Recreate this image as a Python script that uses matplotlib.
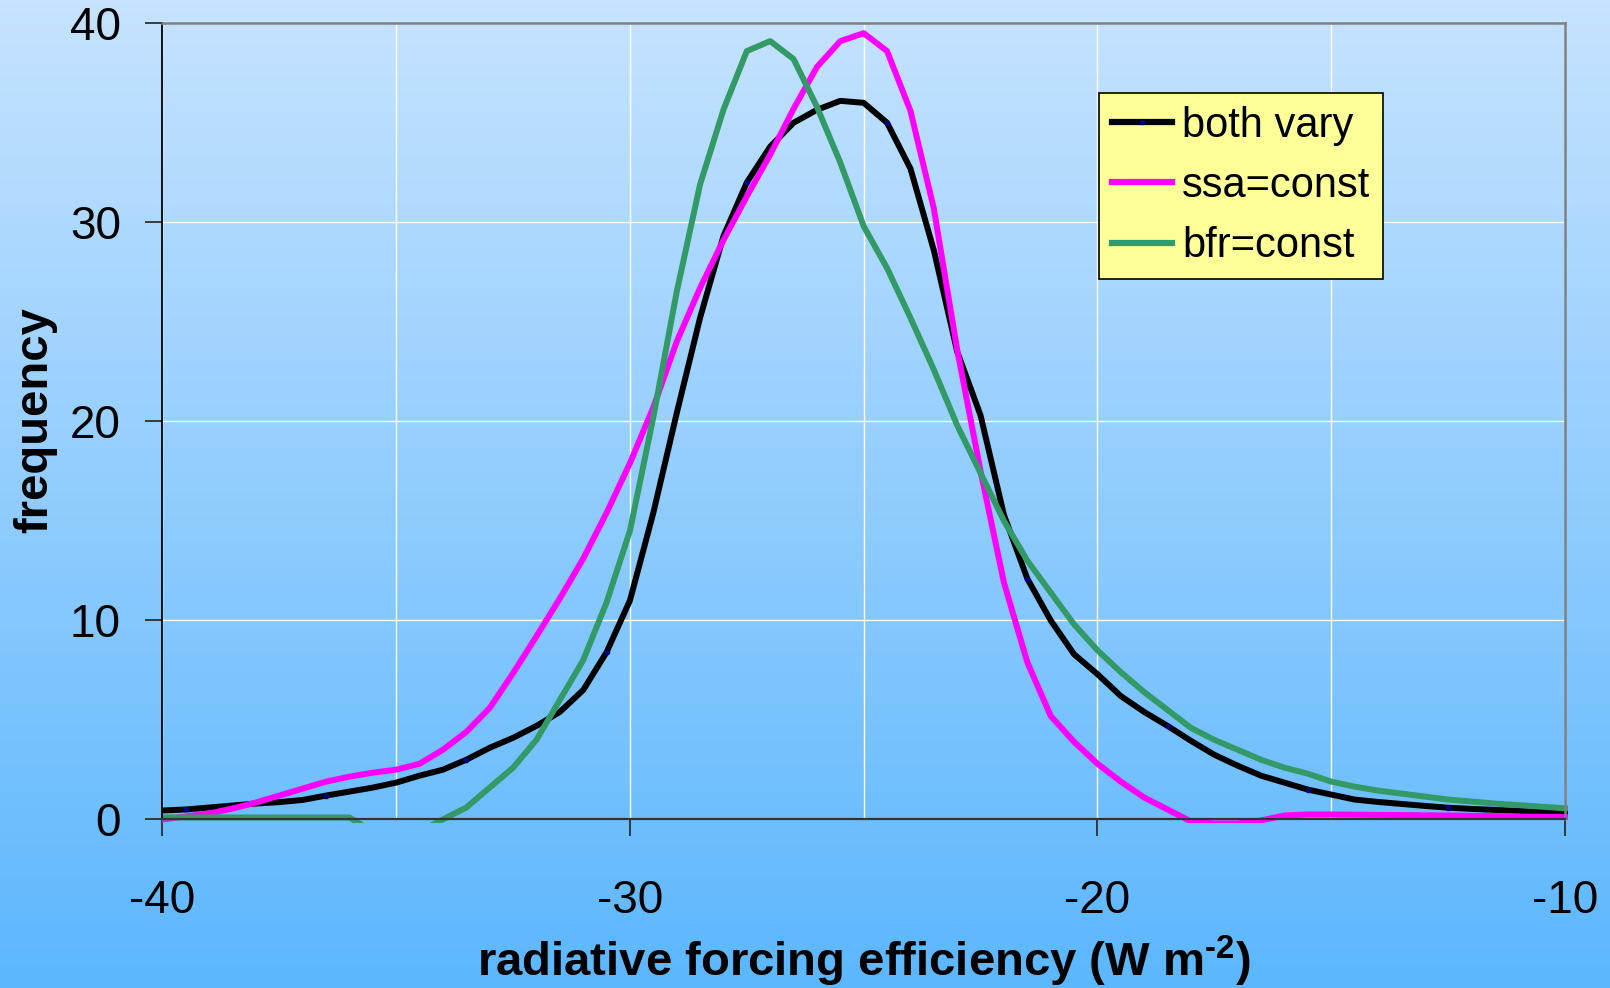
import matplotlib
matplotlib.use("Agg")
import matplotlib.pyplot as plt
import numpy as np
from matplotlib.colors import LinearSegmentedColormap
from matplotlib.patches import Rectangle

plt.rcParams['font.family'] = ['Liberation Sans', 'DejaVu Sans']
plt.rcParams['mathtext.default'] = 'regular'
plt.rcParams['axes.unicode_minus'] = False

# forcing-efficiency bins (W m-2), 0.5 wide
rfe = np.linspace(-40, -10, 61)

both_vary = [0.45, 0.5, 0.6, 0.7, 0.8, 0.87, 0.98, 1.2, 1.4, 1.6,
             1.85, 2.2, 2.5, 3.0, 3.6, 4.1, 4.7, 5.4, 6.5, 8.4,
             11.0, 15.4, 20.4, 25.2, 29.3, 32.0, 33.8, 35.0, 35.65, 36.1,
             36.0, 35.0, 32.7, 28.6, 23.5, 20.3, 15.3, 12.1, 10.0, 8.3,
             7.3, 6.2, 5.4, 4.7, 3.95, 3.25, 2.7, 2.2, 1.85, 1.5,
             1.25, 1.0, 0.88, 0.78, 0.68, 0.59, 0.53, 0.48, 0.43, 0.38,
             0.34]
ssa_const = [0.0, 0.15, 0.3, 0.55, 0.85, 1.2, 1.55, 1.9, 2.15, 2.35,
             2.5, 2.8, 3.5, 4.4, 5.6, 7.35, 9.2, 11.1, 13.1, 15.4,
             17.9, 20.7, 24.0, 26.7, 29.1, 31.3, 33.4, 35.7, 37.8, 39.1,
             39.5, 38.6, 35.6, 30.7, 23.6, 17.5, 11.9, 7.9, 5.2, 3.9,
             2.8, 1.9, 1.1, 0.5, -0.1, -0.2, -0.2, -0.05, 0.2, 0.25,
             0.25, 0.24, 0.23, 0.22, 0.21, 0.2, 0.18, 0.17, 0.15, 0.13,
             0.12]
bfr_const = [0.1, 0.1, 0.1, 0.1, 0.1, 0.1, 0.1, 0.1, 0.1, -0.6,
             -0.8, -0.6, 0.0, 0.6, 1.6, 2.6, 4.0, 6.0, 8.0, 10.9,
             14.5, 20.2, 26.5, 31.9, 35.65, 38.6, 39.1, 38.2, 35.8, 33.0,
             29.8, 27.7, 25.2, 22.6, 19.8, 17.4, 15.0, 13.0, 11.4, 9.8,
             8.5, 7.4, 6.4, 5.5, 4.6, 4.0, 3.5, 3.0, 2.6, 2.3,
             1.9, 1.65, 1.45, 1.3, 1.15, 1.0, 0.9, 0.8, 0.72, 0.64,
             0.56]

labels = ["both vary", "ssa=const", "bfr=const"]
colors = ["black", "#FF00FF", "#339966"]

fig = plt.figure(figsize=(16.1, 9.88), dpi=100)

# blue vertical gradient behind everything
bg = fig.add_axes([0, 0, 1, 1], zorder=0)
cmap = LinearSegmentedColormap.from_list("bg", ["#C6E3FF", "#5CB7FD"])
bg.imshow(np.linspace(0, 1, 256)[:, None], aspect="auto", cmap=cmap,
          extent=[0, 1, 0, 1], origin="upper")
bg.axis("off")

ax = fig.add_axes([0.1009, 0.1706, 0.8711, 0.8059], zorder=1)
ax.patch.set_alpha(0)

# let the lines bleed a few pixels past the frame like the spreadsheet does
clip = Rectangle((0, -0.004), 1.004, 1.01, transform=ax.transAxes,
                 fill=False, visible=False)
ax.add_patch(clip)

handles = []
for series, lab, col in zip([both_vary, ssa_const, bfr_const], labels, colors):
    kw = {}
    if lab == "both vary":
        kw = dict(marker="o", markevery=slice(1, None, 6), ms=3,
                  mfc="#000080", mec="#000080")
    ln, = ax.plot(rfe, series, color=col, lw=4.3, label=lab,
                  solid_joinstyle="round", **kw)
    ln.set_clip_path(clip)
    handles.append(ln)

ax.set_xlim(-40, -10)
ax.set_ylim(0, 40)
ax.set_xticks([-40, -30, -20, -10])
ax.set_xticks([-35, -25, -15], minor=True)
ax.set_yticks([0, 10, 20, 30, 40])
ax.tick_params(axis="x", which="major", length=12, width=1.2, pad=31,
               labelsize=33, direction="out", colors="#222222",
               labelcolor="black")
ax.tick_params(axis="x", which="minor", length=0)
ax.tick_params(axis="y", length=12, width=1.2, pad=18, labelsize=33,
               direction="out", colors="#222222", labelcolor="black")
ax.set_axisbelow(True)
ax.grid(True, which="both", axis="x", color="white", lw=1)
ax.grid(True, which="major", axis="y", color="white", lw=1)

for side in ["top", "right"]:
    ax.spines[side].set_color("#808080")
    ax.spines[side].set_linewidth(1.8)
ax.spines["left"].set_color("black")
ax.spines["left"].set_linewidth(1.3)
ax.spines["bottom"].set_color("#333333")
ax.spines["bottom"].set_linewidth(1.6)

fig.text(0.5365, 0.0115, "radiative forcing efficiency (W m$^{\u2010 2}$)",
         ha="center", va="baseline", fontsize=34, fontweight="bold")
fig.text(0.022, 0.575, "frequency", rotation=90, ha="center", va="center",
         fontsize=34, fontweight="bold")

leg = ax.legend(handles=handles, loc="upper left",
                bbox_to_anchor=(1099 / 1610, 1 - 93 / 988),
                bbox_transform=fig.transFigure, borderaxespad=0,
                fontsize=30, handlelength=1.45, handletextpad=0.25,
                borderpad=0.3, labelspacing=0.49, frameon=True,
                fancybox=False, framealpha=1, facecolor="#FFFF99",
                edgecolor="black")
leg.get_frame().set_linewidth(1.2)
for lh in leg.get_lines():
    lh.set_linewidth(4.5)

fig.savefig("out.png", dpi=100)
